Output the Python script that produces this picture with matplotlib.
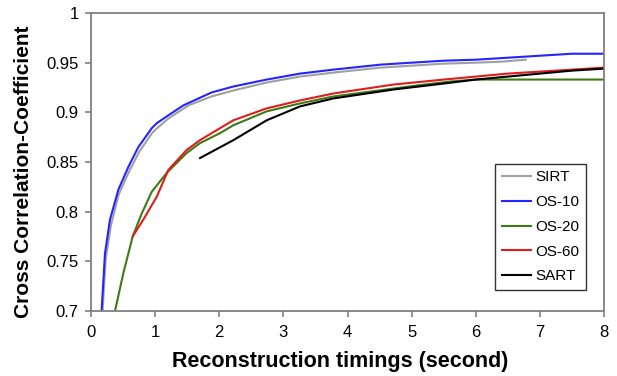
"""Cross correlation vs reconstruction time for SIRT / OS / SART"""
import numpy as np
import matplotlib
matplotlib.use('Agg')
import matplotlib.pyplot as plt

plt.rcParams['font.family'] = ['Liberation Sans', 'DejaVu Sans']

#%% values
sirt_t = [0.18, 0.23, 0.31, 0.43, 0.59, 0.75, 0.95, 1.03, 1.21, 1.52, 1.88, 2.22, 2.74, 3.26, 3.78, 4.51, 5.0, 5.5, 6.0, 6.4, 6.78]
sirt_cc = [0.7, 0.753, 0.786, 0.817, 0.840, 0.860, 0.879, 0.884, 0.894, 0.907, 0.916, 0.922, 0.930, 0.936, 0.940, 0.945, 0.947, 0.949, 0.950, 0.951, 0.953]

os10_t = [0.165, 0.218, 0.296, 0.426, 0.582, 0.738, 0.947, 1.025, 1.206, 1.44, 1.88, 2.22, 2.74, 3.26, 3.78, 4.51, 5.0, 5.5, 6.0, 6.5, 7.0, 7.5, 8.0]
os10_cc = [0.7, 0.758, 0.792, 0.822, 0.845, 0.865, 0.884, 0.889, 0.897, 0.907, 0.920, 0.926, 0.933, 0.939, 0.943, 0.948, 0.950, 0.952, 0.953, 0.955, 0.957, 0.959, 0.959]

os20_t = [0.374, 0.504, 0.65, 0.79, 0.947, 1.18, 1.49, 1.70, 2.01, 2.22, 2.74, 3.26, 3.78, 4.72, 5.2, 5.6, 6.0, 6.5, 7.0, 7.5, 8.0]
os20_cc = [0.7, 0.738, 0.775, 0.798, 0.820, 0.839, 0.859, 0.869, 0.879, 0.887, 0.901, 0.909, 0.916, 0.924, 0.928, 0.931, 0.933, 0.933, 0.933, 0.933, 0.933]

os60_t = [0.65, 0.816, 1.025, 1.206, 1.49, 1.70, 2.01, 2.22, 2.74, 3.26, 3.78, 4.72, 5.5, 6.0, 6.5, 7.0, 7.5, 8.0]
os60_cc = [0.775, 0.792, 0.815, 0.842, 0.862, 0.872, 0.884, 0.892, 0.904, 0.912, 0.919, 0.928, 0.933, 0.936, 0.939, 0.941, 0.943, 0.945]

sart_t = [1.70, 2.22, 2.74, 3.26, 3.78, 4.72, 5.5, 6.0, 6.5, 7.0, 7.5, 8.0]
sart_cc = [0.854, 0.872, 0.892, 0.906, 0.914, 0.923, 0.929, 0.933, 0.936, 0.939, 0.942, 0.944]

series = [
    ('SIRT', sirt_t, sirt_cc, '#a0a0a0'),
    ('OS-10', os10_t, os10_cc, '#2424ff'),
    ('OS-20', os20_t, os20_cc, '#3c7a14'),
    ('OS-60', os60_t, os60_cc, '#e01c1c'),
    ('SART', sart_t, sart_cc, '#000000'),
]

#%% plot
fig = plt.figure(figsize=(6.17, 3.76), dpi=100)
ax = fig.add_axes([0.1475, 0.1729, 0.8315, 0.7925])

for name, t, cc, col in series:
    ax.plot(t, cc, color=col, linewidth=1.5, label=name)

ax.set_xlim(0, 8)
ax.set_ylim(0.7, 1.0)
ax.set_xticks(np.arange(0, 9, 1))
ax.set_yticks([0.7, 0.75, 0.8, 0.85, 0.9, 0.95, 1.0])
ax.set_yticklabels(['0.7', '0.75', '0.8', '0.85', '0.9', '0.95', '1'])

for sp in ax.spines.values():
    sp.set_color('#808080')
    sp.set_linewidth(1.3)
ax.tick_params(axis='both', colors='#808080', labelcolor='black', labelsize=12,
               length=4, width=1.2, direction='out')
ax.tick_params(axis='y', pad=5)
ax.tick_params(axis='x', pad=6)

ax.set_xlabel('Reconstruction timings (second)', fontsize=15.5, fontweight='bold')
ax.set_ylabel('Cross Correlation-Coefficient', fontsize=15, fontweight='bold')
ax.xaxis.set_label_coords(0.485, -0.135)
ax.yaxis.set_label_coords(-0.113, 0.467)

leg = ax.legend(loc='lower right', bbox_to_anchor=(0.965, 0.07), fontsize=11,
                frameon=True, fancybox=False, handlelength=1.9, handletextpad=0.3,
                borderpad=0.45, labelspacing=0.7, borderaxespad=0)
leg.get_frame().set_edgecolor('black')
leg.get_frame().set_linewidth(1.0)

fig.savefig('out.png', dpi=100)
